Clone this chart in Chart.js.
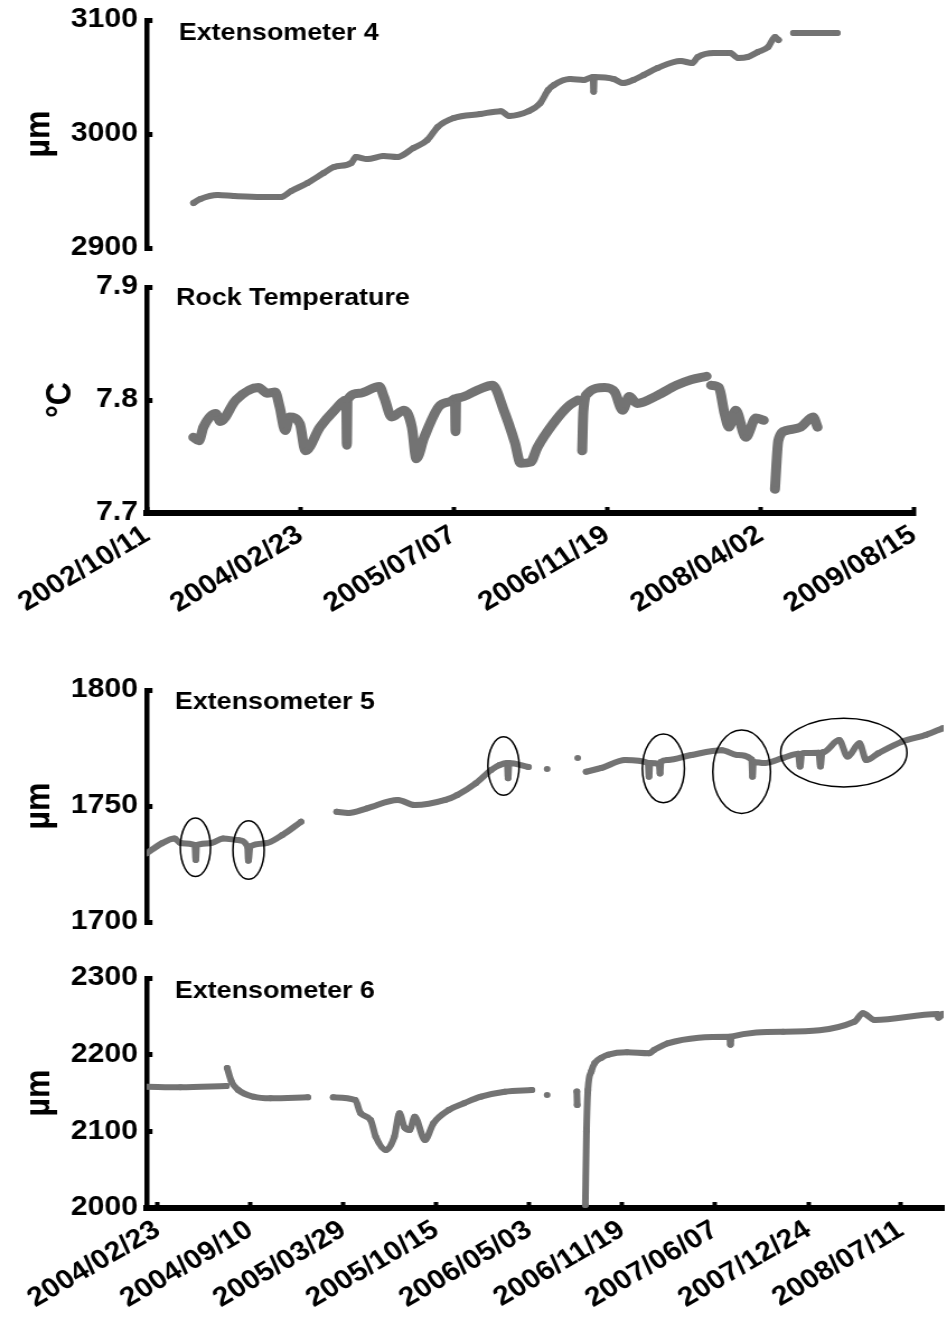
<!DOCTYPE html>
<html>
<head>
<meta charset="utf-8">
<script src="https://cdn.jsdelivr.net/npm/chart.js@4.4.1/dist/chart.umd.min.js"></script>
<style>
	html, body { margin: 0; padding: 0; background: #fff; }
	#wrap { position: relative; width: 947px; height: 1321px; overflow: hidden; background: #fff; }
	canvas { position: absolute; left: 0; }
</style>
</head>
<body>
<div id="wrap">
	<!-- the original figure is stretched sideways, so each canvas is drawn narrower and widened by css -->
	<canvas id="ext4" width="846" height="298" style="top:-20px; width:947px; height:298px"></canvas>
	<canvas id="temp" width="846" height="376" style="top:247px; width:947px; height:376px"></canvas>
	<canvas id="ext5" width="846" height="302" style="top:650px; width:947px; height:302px"></canvas>
	<canvas id="ext6" width="846" height="380" style="top:938px; width:947px; height:380px"></canvas>
</div>
<script>
// x values are decimal years
const topTickDates = ['2002/10/11', '2004/02/23', '2005/07/07', '2006/11/19', '2008/04/02', '2009/08/15'];
const bottomTickDates = ['2004/02/23', '2004/09/10', '2005/03/29', '2005/10/15', '2006/05/03', '2006/11/19', '2007/06/07', '2007/12/24', '2008/07/11'];
const bottomRange = ['2004/01/31', '2008/10/11'];

const ext4Years = [2003.18, 2003.24, 2003.39, 2003.53, 2003.77, 2003.94, 2004.03, 2004.17, 2004.31, 2004.40, 2004.55, 2004.59, 2004.69, 2004.83, 2004.95, 2005.09, 2005.21, 2005.30, 2005.44, 2005.67, 2005.85, 2005.92, 2006.09, 2006.19, 2006.26, 2006.31, 2006.45, 2006.57, 2006.65, 2006.655, 2006.66, 2006.83, 2006.91, 2007.00, 2007.09, 2007.21, 2007.41, 2007.51, 2007.56, 2007.70, 2007.84, 2007.91, 2007.99, 2008.08, 2008.17, 2008.23, 2008.26, 2008.32, 2008.39, 2008.77];
const ext4Values = [2939.5, 2943, 2946.5, 2945.6, 2944.7, 2944.7, 2950, 2957, 2965.8, 2971, 2974.6, 2979.8, 2978, 2980.7, 2979.8, 2987.7, 2994.7, 3006.1, 3014, 3017.5, 3020, 3015.8, 3020, 3027, 3038.6, 3043, 3048.2, 3047.4, 3050, 3037, 3050, 3048.2, 3044.7, 3047.4, 3051.8, 3057.9, 3064, 3062.3, 3067.5, 3071, 3071, 3066.7, 3067.5, 3071.9, 3076.3, 3085, 3082.5, null, 3088.6, 3088.6];
const ext4YTicks = [2900, 3000, 3100];

const tempYears = [2003.19, 2003.24, 2003.28, 2003.39, 2003.43, 2003.57, 2003.77, 2003.85, 2003.92, 2003.96, 2004.01, 2004.05, 2004.14, 2004.19, 2004.32, 2004.45, 2004.555, 2004.56, 2004.565, 2004.67, 2004.85, 2004.89, 2004.96, 2005.07, 2005.14, 2005.18, 2005.25, 2005.38, 2005.49, 2005.525, 2005.53, 2005.535, 2005.56, 2005.73, 2005.86, 2005.96, 2006.06, 2006.11, 2006.20, 2006.26, 2006.40, 2006.53, 2006.62, 2006.64, 2006.66, 2006.67, 2006.71, 2006.86, 2006.95, 2007.02, 2007.08, 2007.15, 2007.33, 2007.50, 2007.63, 2007.77, 2007.79, 2007.81, 2007.88, 2007.93, 2007.97, 2008.03, 2008.12, 2008.21, 2008.28, 2008.33, 2008.38, 2008.41, 2008.48, 2008.61, 2008.72, 2008.76];
const tempValues = [7.767, 7.764, 7.776, 7.788, 7.781, 7.800, 7.811, 7.806, 7.807, 7.794, 7.773, 7.785, 7.779, 7.755, 7.776, 7.791, 7.800, 7.760, 7.800, 7.806, 7.812, 7.803, 7.785, 7.791, 7.776, 7.748, 7.767, 7.794, 7.799, 7.801, 7.772, 7.801, 7.802, 7.809, 7.813, 7.791, 7.762, 7.744, 7.745, 7.758, 7.779, 7.794, 7.800, null, 7.755, 7.790, 7.806, 7.811, 7.807, 7.791, 7.803, 7.797, 7.804, 7.813, 7.818, 7.821, null, 7.813, 7.811, 7.788, 7.776, 7.791, 7.767, 7.784, 7.782, null, 7.721, 7.764, 7.773, 7.776, 7.785, 7.776];
const tempYTicks = [7.7, 7.8, 7.9];

const ext5Years = [2004.08, 2004.17, 2004.245, 2004.28, 2004.365, 2004.37, 2004.375, 2004.46, 2004.53, 2004.62, 2004.675, 2004.68, 2004.69, 2004.78, 2004.88, 2004.99, 2005.10, 2005.20, 2005.27, 2005.38, 2005.56, 2005.66, 2005.84, 2005.91, 2006.02, 2006.11, 2006.16, 2006.205, 2006.21, 2006.215, 2006.33, 2006.39, 2006.44, 2006.50, 2006.62, 2006.645, 2006.67, 2006.76, 2006.90, 2007.035, 2007.04, 2007.045, 2007.10, 2007.105, 2007.11, 2007.15, 2007.29, 2007.47, 2007.56, 2007.645, 2007.65, 2007.655, 2007.72, 2007.83, 2007.92, 2007.93, 2007.94, 2007.96, 2008.04, 2008.05, 2008.06, 2008.07, 2008.16, 2008.21, 2008.28, 2008.32, 2008.39, 2008.53, 2008.67, 2008.77];
const ext5Values = [1729.6, 1733.9, 1736, 1734, 1733.2, 1726.7, 1733.2, 1734, 1736, 1735.3, 1732.5, 1726.4, 1732.5, 1733.9, 1737.5, 1743.2, null, 1747.5, 1747, 1749, 1752.6, 1750.4, 1752.6, 1754.7, 1759.8, 1765.5, 1767.7, 1768.5, 1762, 1768.5, 1766.8, null, 1766, null, 1770.7, null, 1764.8, 1766.4, 1769.8, 1768.5, 1762.6, 1768.5, 1768, 1764, 1769, 1769.8, 1772, 1774, 1772, 1770, 1762.6, 1769, 1768.5, 1770.7, 1772.5, 1767, 1772.5, 1772.8, 1773, 1767, 1773, 1773.3, 1778.4, 1771.3, 1777, 1769.8, 1772.7, 1777.7, 1780.6, 1783.5];
const ext5YTicks = [1700, 1750, 1800];
// circled events: centre year, centre value, half-width (years), half-height (um)
const markYears = [2004.368, 2004.681, 2006.183, 2007.125, 2007.586, 2008.188];
const markValues = [1732.2, 1731, 1767.2, 1766.2, 1764.8, 1773];
const markHalfYears = [0.089, 0.092, 0.092, 0.124, 0.170, 0.372];
const markHalfValues = [12.6, 12.6, 12.6, 14.8, 18, 14.8];

const ext6Years = [2004.08, 2004.28, 2004.55, 2004.552, 2004.555, 2004.58, 2004.62, 2004.71, 2004.81, 2005.03, 2005.10, 2005.18, 2005.31, 2005.34, 2005.40, 2005.43, 2005.49, 2005.54, 2005.57, 2005.60, 2005.63, 2005.66, 2005.72, 2005.77, 2005.86, 2005.95, 2006.05, 2006.19, 2006.35, 2006.40, 2006.44, 2006.50, 2006.615, 2006.617, 2006.64, 2006.665, 2006.672, 2006.68, 2006.70, 2006.72, 2006.76, 2006.80, 2006.91, 2007.04, 2007.07, 2007.15, 2007.515, 2007.52, 2007.525, 2007.83, 2008.25, 2008.30, 2008.37, 2008.74, 2008.745, 2008.77];
const ext6Values = [2158.2, 2157.4, 2159, null, 2182.6, 2165, 2153.9, 2145.2, 2143, 2144.4, null, 2144.4, 2140.9, 2123.9, 2114.8, 2093, 2075.7, 2093, 2123.5, 2105, 2101.7, 2119, 2088.7, 2110.5, 2127.8, 2136.6, 2145.2, 2151.7, 2153.9, null, 2147.4, null, 2152, 2134.5, null, 2004, 2100, 2154, 2178, 2189, 2196, 2200, 2203, 2201.7, 2206, 2214.8, 2223.5, 2213, 2223.5, 2230, 2243, 2254, 2245.2, 2253, 2248, 2253];
const ext6YTicks = [2000, 2100, 2200, 2300];

const GREY = '#737373';
const FONT = '"Liberation Sans", Arial, Helvetica, sans-serif';

function toYear(s) {
	const [y, m, d] = s.split('/').map(Number);
	const start = Date.UTC(y, 0, 1);
	const end = Date.UTC(y + 1, 0, 1);
	return y + (Date.UTC(y, m - 1, d) - start) / (end - start);
}

const panelLabel = {
	id: 'panelLabel',
	afterDraw(chart, args, opts) {
		const { ctx, chartArea } = chart;
		ctx.save();
		ctx.font = `bold 24px ${FONT}`;
		ctx.fillStyle = '#000';
		ctx.textBaseline = 'middle';
		ctx.fillText(opts.text, chartArea.left + opts.dx, chartArea.top + opts.dy);
		ctx.restore();
	}
};

const eventRings = {
	id: 'eventRings',
	afterDatasetsDraw(chart) {
		const { ctx, scales: { x, y } } = chart;
		ctx.save();
		ctx.strokeStyle = '#000';
		ctx.lineWidth = 1.5;
		markYears.forEach((yr, i) => {
			const cx = x.getPixelForValue(yr);
			const cy = y.getPixelForValue(markValues[i]);
			const rx = Math.abs(x.getPixelForValue(yr + markHalfYears[i]) - cx);
			const ry = Math.abs(y.getPixelForValue(markValues[i] + markHalfValues[i]) - cy);
			ctx.beginPath();
			ctx.ellipse(cx, cy, rx, ry, 0, 0, Math.PI * 2);
			ctx.stroke();
		});
		ctx.restore();
	}
};

function makePanel(id, cfg) {
	const points = cfg.xs.map((x, i) => ({ x: x, y: cfg.ys[i] }));
	return new Chart(document.getElementById(id), {
		type: 'line',
		data: {
			datasets: [{
				data: points,
				borderColor: GREY,
				backgroundColor: GREY,
				borderWidth: cfg.lineWidth,
				borderJoinStyle: 'round',
				borderCapStyle: 'round',
				cubicInterpolationMode: 'monotone',
				pointRadius: 3,
				pointBorderWidth: 0,
				pointHoverRadius: 0,
				spanGaps: false
			}]
		},
		options: {
			responsive: false,
			animation: false,
			devicePixelRatio: 1,
			events: [],
			layout: { padding: { top: 40, bottom: cfg.padBottom, left: 0, right: cfg.padRight } },
			plugins: {
				legend: { display: false },
				tooltip: { enabled: false },
				panelLabel: { text: cfg.label, dx: cfg.labelDx, dy: cfg.labelDy }
			},
			scales: {
				x: {
					type: 'linear',
					display: cfg.showX,
					min: cfg.xMin,
					max: cfg.xMax,
					afterBuildTicks: s => { s.ticks = cfg.xTicks.map(d => ({ value: toYear(d) })); },
					afterFit: s => { s.height = cfg.xHeight; },
					ticks: {
						color: '#000',
						font: { family: FONT, size: 27, weight: 'bold' },
						minRotation: 33,
						maxRotation: 33,
						autoSkip: false,
						padding: 12,
						callback: (v, i) => cfg.xTicks[i]
					},
					grid: { drawOnChartArea: false, drawTicks: true, tickLength: -6, tickWidth: 4, tickColor: '#000', color: '#000' },
					border: { display: true, color: '#000', width: 6 }
				},
				y: {
					type: 'linear',
					min: cfg.yTicks[0],
					max: cfg.yTicks[cfg.yTicks.length - 1],
					afterBuildTicks: s => { s.ticks = cfg.yTicks.map(v => ({ value: v })); },
					afterFit: s => { s.width = 131.2; },
					ticks: {
						color: '#000',
						font: { family: FONT, size: 27, weight: 'bold' },
						padding: 13,
						callback: v => cfg.yFormat(v)
					},
					grid: { drawOnChartArea: false, drawTicks: true, tickLength: -5, tickWidth: 5, tickColor: '#000', color: '#000' },
					border: { display: true, color: '#000', width: 4.5 },
					title: {
						display: true,
						text: cfg.yTitle,
						color: '#000',
						font: { family: FONT, size: 32, weight: 'bold' },
						padding: { top: cfg.titlePad, bottom: 0 }
					}
				}
			}
		},
		plugins: cfg.rings ? [panelLabel, eventRings] : [panelLabel]
	});
}

const topMin = toYear(topTickDates[0]);
const topMax = toYear(topTickDates[topTickDates.length - 1]);

makePanel('ext4', {
	xs: ext4Years, ys: ext4Values, lineWidth: 6,
	showX: false, xMin: topMin, xMax: topMax, xTicks: topTickDates, xHeight: 0,
	yTicks: ext4YTicks, yFormat: v => String(v), yTitle: 'µm', titlePad: 16,
	padBottom: 30, padRight: 10.7,
	label: 'Extensometer 4', labelDx: 28.5, labelDy: 13
});

makePanel('temp', {
	xs: tempYears, ys: tempValues, lineWidth: 9,
	showX: true, xMin: topMin, xMax: topMax, xTicks: topTickDates, xHeight: 110,
	yTicks: tempYTicks, yFormat: v => v.toFixed(1), yTitle: '°C', titlePad: 35,
	padBottom: 0, padRight: 10.7,
	label: 'Rock Temperature', labelDx: 26, labelDy: 11
});

makePanel('ext5', {
	xs: ext5Years, ys: ext5Values, lineWidth: 6,
	showX: false, xMin: toYear(bottomRange[0]), xMax: toYear(bottomRange[1]), xTicks: bottomTickDates, xHeight: 0,
	yTicks: ext5YTicks, yFormat: v => String(v), yTitle: 'µm', titlePad: 16,
	padBottom: 30, padRight: 0, rings: true,
	label: 'Extensometer 5', labelDx: 25, labelDy: 12
});

makePanel('ext6', {
	xs: ext6Years, ys: ext6Values, lineWidth: 6,
	showX: true, xMin: toYear(bottomRange[0]), xMax: toYear(bottomRange[1]), xTicks: bottomTickDates, xHeight: 110,
	yTicks: ext6YTicks, yFormat: v => String(v), yTitle: 'µm', titlePad: 16,
	padBottom: 0, padRight: 0,
	label: 'Extensometer 6', labelDx: 25, labelDy: 13
});
</script>
</body>
</html>
